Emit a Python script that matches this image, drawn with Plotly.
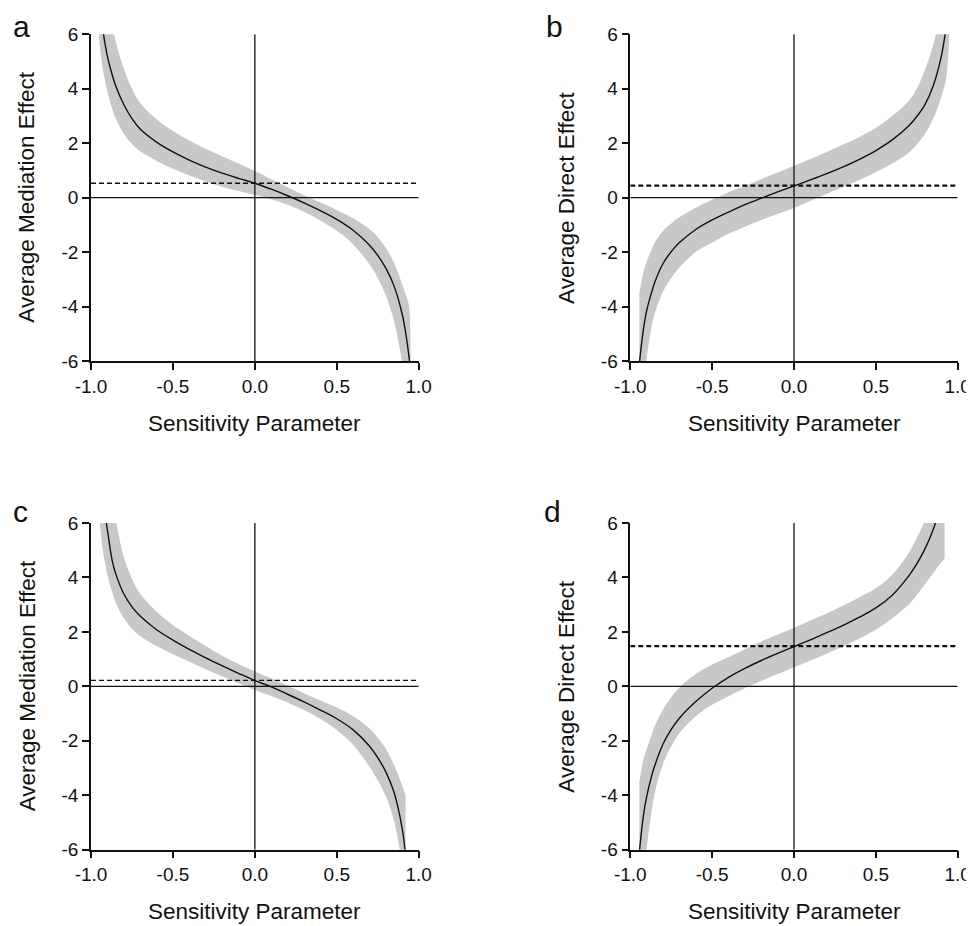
import plotly.graph_objects as go

# ---------------- data ----------------
# Panel a: average mediation effect vs sensitivity parameter
rho_a = [-0.95, -0.93, -0.9, -0.87, -0.85, -0.8, -0.75, -0.7, -0.6, -0.5, -0.4, -0.3, -0.2, -0.1,
         0.0, 0.1, 0.2, 0.3, 0.4, 0.5, 0.6, 0.7, 0.75, 0.8, 0.85, 0.9, 0.92, 0.94, 0.95]
est_a = [8.5, 6.3, 5.2, 4.5, 4.12, 3.42, 2.9, 2.52, 2.04, 1.68, 1.38, 1.12, 0.9, 0.71,
         0.53, 0.31, 0.07, -0.19, -0.48, -0.8, -1.2, -1.75, -2.12, -2.6, -3.25, -4.3, -4.95, -5.8, -6.4]
lo_a = [5.8, 4.8, 3.9, 3.25, 2.92, 2.35, 1.97, 1.7, 1.35, 1.06, 0.81, 0.59, 0.4, 0.24,
        0.1, -0.06, -0.26, -0.52, -0.84, -1.22, -1.72, -2.45, -2.95, -3.6, -4.55, -6.1, -7.0, -8.2, -9.0]
hi_a = [12.0, 9.5, 7.6, 6.4, 5.75, 4.75, 4.0, 3.48, 2.88, 2.45, 2.1, 1.8, 1.52, 1.25,
        0.98, 0.68, 0.38, 0.09, -0.18, -0.45, -0.76, -1.16, -1.45, -1.85, -2.4, -3.2, -3.55, -3.95, -6.2]
ref_a = 0.53

# Panel b: average direct effect
rho_b = [-0.945, -0.92, -0.9, -0.87, -0.85, -0.8, -0.75, -0.7, -0.6, -0.5, -0.4, -0.3, -0.2, -0.1,
         0.0, 0.1, 0.2, 0.3, 0.4, 0.5, 0.6, 0.7, 0.75, 0.8, 0.85, 0.9, 0.93, 0.95]
est_b = [-6.1, -4.85, -4.15, -3.48, -3.1, -2.42, -1.98, -1.65, -1.17, -0.82, -0.53, -0.26, -0.02, 0.21,
         0.43, 0.65, 0.88, 1.13, 1.41, 1.73, 2.12, 2.63, 2.98, 3.42, 4.1, 5.2, 6.3, 7.5]
lo_b = [-8.6, -7.0, -5.9, -4.75, -4.25, -3.45, -2.95, -2.57, -2.0, -1.65, -1.33, -1.07, -0.82, -0.6,
        -0.38, -0.12, 0.14, 0.4, 0.65, 0.93, 1.25, 1.65, 1.95, 2.35, 2.9, 3.7, 4.4, 6.2]
hi_b = [-3.5, -2.75, -2.35, -1.9, -1.65, -1.22, -0.95, -0.72, -0.37, -0.08, 0.2, 0.43, 0.68, 0.92,
        1.17, 1.42, 1.68, 1.95, 2.23, 2.57, 3.0, 3.55, 4.0, 4.7, 5.6, 7.0, 9.5, 11.0]
ref_b = 0.44

# Panel c: average mediation effect
rho_c = [-0.95, -0.93, -0.9, -0.87, -0.85, -0.8, -0.75, -0.7, -0.6, -0.5, -0.4, -0.3, -0.2, -0.1,
         0.0, 0.1, 0.2, 0.3, 0.4, 0.5, 0.6, 0.7, 0.75, 0.8, 0.85, 0.9, 0.92]
est_c = [9.0, 7.0, 5.75, 4.6, 4.15, 3.4, 2.92, 2.58, 2.08, 1.7, 1.36, 1.05, 0.76, 0.48,
         0.21, -0.02, -0.29, -0.57, -0.87, -1.19, -1.6, -2.2, -2.62, -3.15, -3.9, -5.25, -6.2]
lo_c = [6.3, 5.1, 4.1, 3.45, 3.1, 2.5, 2.12, 1.85, 1.48, 1.18, 0.9, 0.63, 0.37, 0.11,
        -0.13, -0.35, -0.59, -0.87, -1.2, -1.6, -2.15, -2.95, -3.45, -4.05, -4.95, -6.6, -7.6]
hi_c = [14.0, 11.0, 8.2, 7.1, 6.2, 4.75, 3.95, 3.4, 2.75, 2.25, 1.85, 1.48, 1.12, 0.82,
        0.55, 0.3, 0.02, -0.25, -0.52, -0.78, -1.1, -1.55, -1.88, -2.3, -2.9, -3.65, -4.0]
ref_c = 0.22

# Panel d: average direct effect
rho_d = [-0.945, -0.92, -0.9, -0.87, -0.85, -0.8, -0.75, -0.7, -0.6, -0.5, -0.4, -0.3, -0.2, -0.1,
         0.0, 0.1, 0.2, 0.3, 0.4, 0.5, 0.6, 0.7, 0.75, 0.8, 0.85, 0.88, 0.92]
est_d = [-6.1, -4.75, -4.05, -3.3, -2.9, -2.12, -1.58, -1.17, -0.56, -0.07, 0.33, 0.66, 0.95, 1.21,
         1.46, 1.71, 1.97, 2.24, 2.54, 2.88, 3.35, 4.05, 4.5, 5.05, 5.75, 6.35, 7.8]
lo_d = [-9.4, -7.5, -6.0, -4.6, -3.9, -2.85, -2.2, -1.72, -1.1, -0.68, -0.36, -0.07, 0.2, 0.45,
        0.7, 0.95, 1.2, 1.47, 1.76, 2.08, 2.5, 3.0, 3.35, 3.75, 4.15, 4.4, 4.7]
hi_d = [-3.5, -2.7, -2.3, -1.8, -1.45, -0.85, -0.4, -0.04, 0.45, 0.8, 1.07, 1.36, 1.65, 1.9,
        2.15, 2.42, 2.68, 2.97, 3.27, 3.6, 4.1, 4.9, 5.45, 6.1, 7.1, 8.5, 10.0]
ref_d = 1.48

x_ticks = [-1.0, -0.5, 0.0, 0.5, 1.0]
x_tick_text = ["-1.0", "-0.5", "0.0", "0.5", "1.0"]
y_ticks = [-6, -4, -2, 0, 2, 4, 6]
y_tick_text = ["-6", "-4", "-2", "0", "2", "4", "6"]

panel_letters = ["a", "b", "c", "d"]
y_titles = ["Average Mediation Effect", "Average Direct Effect",
            "Average Mediation Effect", "Average Direct Effect"]
x_title = "Sensitivity Parameter"

# ---------------- layout geometry ----------------
# The page body has an 8px default margin, so the figure is drawn 8px in
# from the window corner; positions below are window pixels.
OFF = 8
W, H = 966, 918
FONT = "Liberation Sans, Arial, Helvetica, sans-serif"
BAND = "#c8c8c8"
INK = "#111111"


def px2x(px):
    return (px - OFF) / W


def px2y(py):
    return 1 - (py - OFF) / H


px_x = [(91.0, 418.7), (630.3, 957.7), (91.0, 418.7), (630.3, 957.7)]
px_y = [(34.3, 361.0), (34.3, 361.0), (523.0, 849.7), (523.0, 849.7)]
# left edge and top of the letter's text box (window pixels)
letter_px = [(12, 8.5), (545, 8.5), (12, 494), (543, 494)]
dash_w = [1.4, 2.2, 1.4, 2.2]

panels = [
    (rho_a, est_a, lo_a, hi_a, ref_a),
    (rho_b, est_b, lo_b, hi_b, ref_b),
    (rho_c, est_c, lo_c, hi_c, ref_c),
    (rho_d, est_d, lo_d, hi_d, ref_d),
]

fig = go.Figure()
annotations = []
shapes = []
layout_axes = {}

for i, (rho, est, lo, hi, ref) in enumerate(panels):
    n = i + 1
    xa = "x" if n == 1 else f"x{n}"
    ya = "y" if n == 1 else f"y{n}"
    xkey = "xaxis" if n == 1 else f"xaxis{n}"
    ykey = "yaxis" if n == 1 else f"yaxis{n}"

    x0, x1 = px2x(px_x[i][0]), px2x(px_x[i][1])
    y0, y1 = px2y(px_y[i][1]), px2y(px_y[i][0])

    # confidence band: lower edge, then upper edge filled down to it
    fig.add_trace(go.Scatter(
        x=rho, y=lo, mode="lines", line=dict(width=0, color=BAND, shape="spline", smoothing=1.0),
        hoverinfo="skip", showlegend=False, xaxis=xa, yaxis=ya))
    fig.add_trace(go.Scatter(
        x=rho, y=hi, mode="lines", fill="tonexty", fillcolor=BAND,
        line=dict(width=0, color=BAND, shape="spline", smoothing=1.0),
        hoverinfo="skip", showlegend=False, xaxis=xa, yaxis=ya))
    # point estimate curve
    fig.add_trace(go.Scatter(
        x=rho, y=est, mode="lines", line=dict(color=INK, width=1.4, shape="spline", smoothing=1.0),
        showlegend=False, xaxis=xa, yaxis=ya))
    # dashed estimate line
    fig.add_trace(go.Scatter(
        x=[-1.0, 1.0], y=[ref, ref], mode="lines",
        line=dict(color=INK, width=dash_w[i], dash="5px,3px"),
        showlegend=False, xaxis=xa, yaxis=ya))

    # zero reference lines
    shapes.append(dict(type="line", xref=xa, yref=ya, x0=-1, x1=1, y0=0, y1=0,
                       line=dict(color=INK, width=1.3), layer="above"))
    shapes.append(dict(type="line", xref=xa, yref=ya, x0=0, x1=0, y0=-6, y1=6,
                       line=dict(color=INK, width=1.3), layer="above"))

    common = dict(showline=True, linecolor=INK, linewidth=1.5, ticks="outside", ticklen=7,
                  tickwidth=1.5, tickcolor=INK, showgrid=False, zeroline=False, mirror=False,
                  automargin=False,
                  tickfont=dict(family=FONT, size=19, color=INK), fixedrange=True)
    layout_axes[xkey] = dict(domain=[x0, x1], range=[-1, 1], anchor=ya,
                             tickvals=x_ticks, ticktext=x_tick_text, **common)
    layout_axes[ykey] = dict(domain=[y0, y1], range=[-6, 6], anchor=xa,
                             tickvals=y_ticks, ticktext=y_tick_text, **common)

    # axis titles
    cx = px2x((px_x[i][0] + px_x[i][1]) / 2)
    cy = (y0 + y1) / 2
    annotations.append(dict(text=x_title, xref="paper", yref="paper", x=cx,
                            y=px2y(px_y[i][1] + 62), xanchor="center", yanchor="middle",
                            showarrow=False, font=dict(family=FONT, size=22.5, color=INK)))
    annotations.append(dict(text=y_titles[i], xref="paper", yref="paper",
                            x=px2x(px_x[i][0] - 64), y=cy, xanchor="center", yanchor="middle",
                            textangle=-90, showarrow=False,
                            font=dict(family=FONT, size=22.5, color=INK)))
    # panel letter
    lx, ltop = letter_px[i]
    annotations.append(dict(text=panel_letters[i], xref="paper", yref="paper",
                            x=px2x(lx), y=px2y(ltop), xanchor="left", yanchor="top",
                            borderpad=0, showarrow=False,
                            font=dict(family=FONT, size=30, color=INK)))

fig.update_layout(width=W, height=H, margin=dict(l=0, r=0, t=0, b=0),
                  paper_bgcolor="white", plot_bgcolor="white",
                  annotations=annotations, shapes=shapes, showlegend=False, **layout_axes)

fig.write_html("out.html")
